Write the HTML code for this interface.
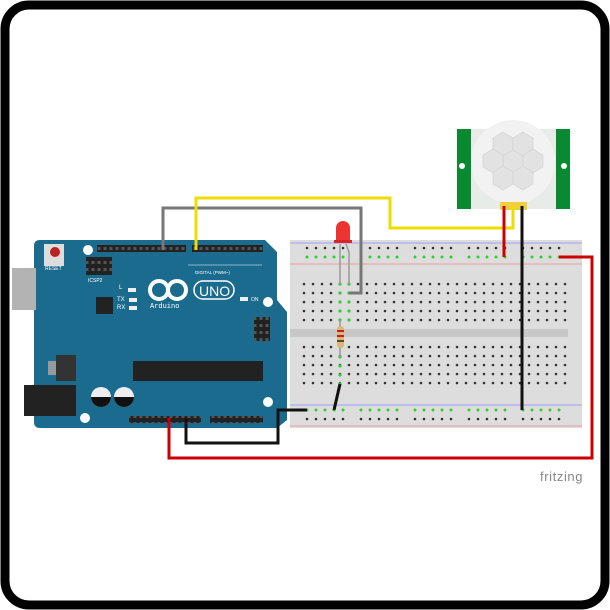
<!DOCTYPE html>
<html><head><style>html,body{margin:0;padding:0;background:#fff}svg{display:block}</style></head>
<body>
<svg width="610" height="610" viewBox="0 0 610 610" xmlns="http://www.w3.org/2000/svg" font-family="Liberation Sans, sans-serif">
<defs>
<pattern id="g" x="299.5" y="279.5" width="9" height="9" patternUnits="userSpaceOnUse"><circle cx="4.5" cy="4.5" r="1.3" fill="#333"/></pattern>
<pattern id="r" x="302.5" y="243.5" width="54" height="9" patternUnits="userSpaceOnUse">
<circle cx="4.5" cy="4.5" r="1.3" fill="#333"/><circle cx="13.5" cy="4.5" r="1.3" fill="#333"/><circle cx="22.5" cy="4.5" r="1.3" fill="#333"/><circle cx="31.5" cy="4.5" r="1.3" fill="#333"/><circle cx="40.5" cy="4.5" r="1.3" fill="#333"/></pattern>
<pattern id="rg" x="302.5" y="252.5" width="54" height="9" patternUnits="userSpaceOnUse">
<circle cx="4.5" cy="4.5" r="1.5" fill="#3c3"/><circle cx="13.5" cy="4.5" r="1.5" fill="#3c3"/><circle cx="22.5" cy="4.5" r="1.5" fill="#3c3"/><circle cx="31.5" cy="4.5" r="1.5" fill="#3c3"/><circle cx="40.5" cy="4.5" r="1.5" fill="#3c3"/></pattern>
<pattern id="rg2" x="302.5" y="405.5" width="54" height="9" patternUnits="userSpaceOnUse">
<circle cx="4.5" cy="4.5" r="1.5" fill="#3c3"/><circle cx="13.5" cy="4.5" r="1.5" fill="#3c3"/><circle cx="22.5" cy="4.5" r="1.5" fill="#3c3"/><circle cx="31.5" cy="4.5" r="1.5" fill="#3c3"/><circle cx="40.5" cy="4.5" r="1.5" fill="#3c3"/></pattern>
<pattern id="r2" x="302.5" y="414.5" width="54" height="9" patternUnits="userSpaceOnUse">
<circle cx="4.5" cy="4.5" r="1.3" fill="#333"/><circle cx="13.5" cy="4.5" r="1.3" fill="#333"/><circle cx="22.5" cy="4.5" r="1.3" fill="#333"/><circle cx="31.5" cy="4.5" r="1.3" fill="#333"/><circle cx="40.5" cy="4.5" r="1.3" fill="#333"/></pattern>
<pattern id="h" x="0" y="0" width="6" height="7" patternUnits="userSpaceOnUse"><rect width="6" height="7" fill="#222"/><rect x="1.5" y="2" width="3" height="3" fill="#555"/></pattern>
</defs>
<rect x="5" y="5" width="600" height="600" rx="24" fill="#fff" stroke="#000" stroke-width="9"/>

<rect x="290" y="240" width="292" height="188" fill="#ddd"/>
<line x1="290" y1="243" x2="582" y2="243" stroke="#88f" stroke-width="0.8"/>
<line x1="290" y1="264" x2="582" y2="264" stroke="#e88" stroke-width="0.8"/>
<line x1="290" y1="405" x2="582" y2="405" stroke="#88f" stroke-width="0.8"/>
<line x1="290" y1="426" x2="582" y2="426" stroke="#e88" stroke-width="0.8"/>
<rect x="290" y="329" width="278" height="8" fill="#c8c8c8"/>
<rect x="299.5" y="279.5" width="270" height="45" fill="url(#g)"/>
<rect x="299.5" y="343.5" width="270" height="45" fill="url(#g)"/>
<rect x="302.5" y="243.5" width="262" height="9" fill="url(#r)"/>
<rect x="302.5" y="252.5" width="262" height="9" fill="url(#rg)"/>
<rect x="302.5" y="405.5" width="262" height="9" fill="url(#rg2)"/>
<rect x="302.5" y="414.5" width="262" height="9" fill="url(#r2)"/>
<g fill="#3c3"><circle cx="340" cy="284" r="1.6"/><circle cx="340" cy="293" r="1.6"/><circle cx="340" cy="302" r="1.6"/><circle cx="340" cy="311" r="1.6"/><circle cx="340" cy="320" r="1.6"/><circle cx="349" cy="284" r="1.6"/><circle cx="349" cy="293" r="1.6"/><circle cx="349" cy="302" r="1.6"/><circle cx="349" cy="311" r="1.6"/><circle cx="349" cy="320" r="1.6"/><circle cx="340" cy="357" r="1.6"/><circle cx="340" cy="366" r="1.6"/><circle cx="340" cy="375" r="1.6"/><circle cx="340" cy="384" r="1.6"/></g>

<path d="M40 240 H265 L277 252 V300 L287 312 V420 L277 428 H40 Q34 428 34 422 V246 Q34 240 40 240Z" fill="#1b6b8f"/>
<rect x="12" y="268" width="24" height="42" fill="#b3b3b3"/>
<rect x="24" y="385" width="52" height="31" fill="#222"/>
<rect x="44" y="244" width="20" height="22" fill="#ddd"/><circle cx="55" cy="252" r="5" fill="#b22"/>
<text x="45" y="270" font-size="5" fill="#fff">RESET</text>
<rect x="86" y="257" width="26" height="18" fill="url(#h)"/>
<text x="88" y="282" font-size="5" fill="#fff">ICSP2</text>
<rect x="97" y="245" width="89" height="7" fill="url(#h)"/>
<rect x="192" y="245" width="71" height="7" fill="url(#h)"/>
<rect x="129" y="416" width="72" height="7" fill="url(#h)"/>
<rect x="210" y="416" width="53" height="7" fill="url(#h)"/>
<rect x="254" y="317" width="16" height="24" fill="url(#h)"/>
<circle cx="88" cy="250" r="5" fill="#fff"/><circle cx="268" cy="302" r="5" fill="#fff"/><circle cx="268" cy="402" r="5" fill="#fff"/><circle cx="85" cy="418" r="5" fill="#fff"/>
<text x="119" y="289" font-size="6" fill="#fff">L</text>
<text x="117" y="301" font-size="6" fill="#fff">TX</text><text x="117" y="309" font-size="6" fill="#fff">RX</text>
<rect x="128" y="288" width="8" height="4" fill="#eee"/><rect x="129" y="298" width="8" height="4" fill="#eee"/><rect x="129" y="306" width="8" height="4" fill="#eee"/>
<rect x="96" y="297" width="17" height="17" fill="#222"/>
<rect x="48" y="361" width="10" height="14" fill="#999"/>
<rect x="56" y="355" width="20" height="26" fill="#333"/>
<circle cx="101" cy="397" r="10" fill="#eee"/><path d="M91 397 A10 10 0 0 0 111 397Z" fill="#111"/>
<circle cx="124" cy="397" r="10" fill="#eee"/><path d="M114 397 A10 10 0 0 0 134 397Z" fill="#111"/>
<rect x="133" y="361" width="130" height="20" fill="#222"/>
<g fill="none" stroke="#fff" stroke-width="4"><circle cx="159" cy="290" r="9"/><circle cx="177" cy="290" r="9"/></g>
<rect x="194" y="281" width="40" height="18" rx="9" fill="none" stroke="#fff" stroke-width="1.5"/>
<text x="199" y="296" font-size="14" fill="#fff">UNO</text>
<text x="150" y="308" font-size="7" fill="#fff" font-family="Liberation Mono, monospace">Arduino</text>
<text x="195" y="274" font-size="4.5" fill="#fff">DIGITAL (PWM~)</text>
<text x="251" y="301" font-size="5" fill="#fff">ON</text><rect x="240" y="297" width="8" height="4" fill="#eee"/>
<line x1="188" y1="265" x2="262" y2="265" stroke="#fff" stroke-width="0.6"/>

<line x1="340" y1="320" x2="340" y2="357" stroke="#999" stroke-width="1.5"/>
<rect x="337" y="326" width="7" height="22" rx="3" fill="#d9b779"/>
<rect x="337" y="330" width="7" height="2" fill="#b22"/><rect x="337" y="335" width="7" height="2" fill="#b22"/><rect x="337" y="340" width="7" height="2" fill="#642"/>

<rect x="457" y="129" width="113" height="80" fill="#e8ece8"/>
<rect x="457" y="129" width="14" height="80" fill="#0a8a30"/><rect x="556" y="129" width="14" height="80" fill="#0a8a30"/>
<circle cx="462" cy="166" r="3" fill="#fff"/><circle cx="564" cy="166" r="3" fill="#fff"/>
<circle cx="513" cy="162" r="42" fill="#f2f2f2"/>
<g fill="#e2e2e2" stroke="#d0d0d0" stroke-width="0.6">
<polygon points="513,149 523,155 523,167 513,173 503,167 503,155"/>
<polygon points="503,132 513,138 513,150 503,156 493,150 493,138"/>
<polygon points="523,132 533,138 533,150 523,156 513,150 513,138"/>
<polygon points="493,149 503,155 503,167 493,173 483,167 483,155"/>
<polygon points="533,149 543,155 543,167 533,173 523,167 523,155"/>
<polygon points="503,166 513,172 513,184 503,190 493,184 493,172"/>
<polygon points="523,166 533,172 533,184 523,190 513,184 513,172"/>
</g>
<rect x="500" y="202" width="27" height="8" fill="#f0d040"/>

<line x1="340" y1="244" x2="340" y2="284" stroke="#999" stroke-width="1.5"/>
<polyline points="346,244 349,252 349,284" fill="none" stroke="#999" stroke-width="1.5"/>
<path d="M336 242 V228 A7 7 0 0 1 350 228 V242 Z" fill="#e33"/>
<rect x="334" y="240" width="18" height="3" fill="#d22"/>

<g fill="none" stroke-linejoin="miter" stroke-width="3">
<polyline points="163,250 163,208 361,208 361,293 349,293" stroke="#777"/>
<polyline points="196,250 196,198 390,198 390,228 513,228 513,206" stroke="#eedd00"/>
<polyline points="504,206 504,257" stroke="#c00"/>
<polyline points="522,206 522,410" stroke="#111"/>
<polyline points="169,418 169,458 592,458 592,257 559,257" stroke="#c00"/>
<polyline points="186,418 186,443 278,443 278,410 307,410" stroke="#111"/>
<polyline points="334,410 340,384" stroke="#111"/>
</g>
<text x="540" y="481" font-size="13" fill="#888" letter-spacing="0.6">fritzing</text>
</svg>
</body></html>
